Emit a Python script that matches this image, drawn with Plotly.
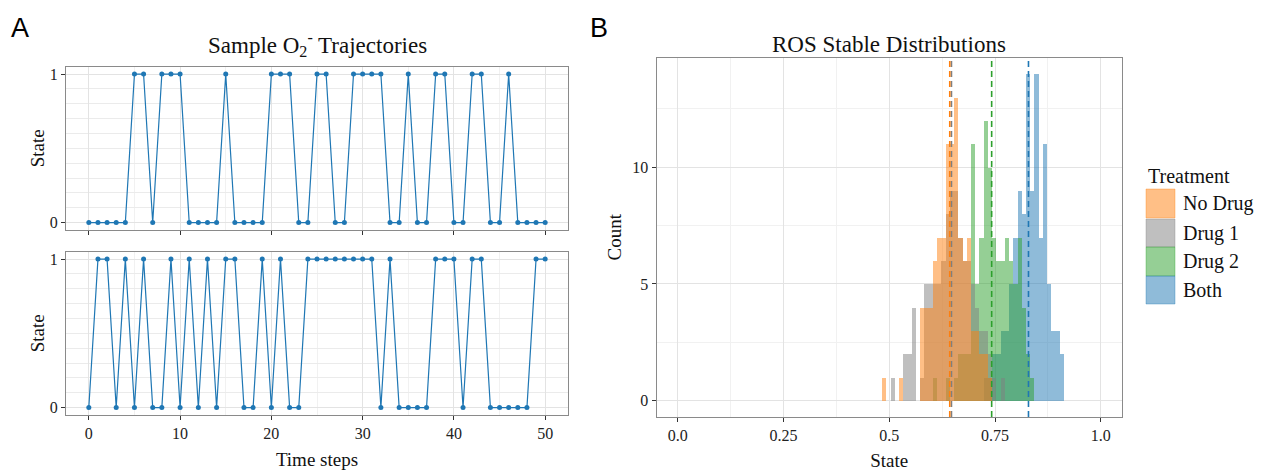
import plotly.graph_objects as go

# ---------------- data ----------------
time_steps = list(range(51))
traj_top = [0,0,0,0,0, 1,1, 0, 1,1,1, 0,0,0,0, 1, 0,0,0,0, 1,1,1, 0,0, 1,1, 0,0,
            1,1,1,1, 0,0, 1, 0,0, 1,1, 0,0, 1,1, 0,0, 1, 0,0,0,0]
traj_bottom = [0, 1,1, 0, 1, 0, 1, 0,0, 1, 0, 1, 0, 1, 0, 1,1, 0,0, 1, 0, 1, 0,0,
               1,1,1,1,1,1,1,1, 0, 1, 0,0,0,0, 1,1,1, 0, 1,1, 0,0,0,0,0, 1,1]

bin_centers = [0.487, 0.497, 0.507, 0.517, 0.527, 0.537, 0.547, 0.557, 0.567, 0.577,
               0.587, 0.597, 0.607, 0.617, 0.627, 0.637, 0.647, 0.657, 0.667, 0.677,
               0.687, 0.697, 0.707, 0.717, 0.727, 0.737, 0.747, 0.757, 0.767, 0.777,
               0.787, 0.797, 0.807, 0.817, 0.827, 0.837, 0.847, 0.857, 0.867, 0.877,
               0.887, 0.897, 0.907]
bin_width = 0.01

count_no_drug = [1,0,0,0,1,0,0,0,0,4, 4,4,6,7,7,11,11,13,7,6, 7,3,3,2,2,1,0,0,0,0,
                 0,0,0,0,0,0,0,0,0,0, 0,0,0]
count_drug1   = [0,0,1,0,0,2,2,4,0,1, 5,5,5,5,6,8,9,9,7,6, 6,5,4,3,3,2,1,0,1,0,
                 0,0,0,0,0,0,0,0,0,0, 0,0,0]
count_drug2   = [0,0,0,0,0,0,0,0,0,0, 0,0,1,0,0,1,0,1,2,2, 2,11,5,7,12,10,7,6,6,7,
                 6,5,7,4,2,1,0,0,0,0, 0,0,0]
count_both    = [0,0,0,0,0,0,0,0,0,0, 0,0,0,0,0,0,0,0,0,0, 0,0,0,0,1,1,2,2,3,3,
                 5,7,9,8,14,9,14,7,11,5, 3,3,2]

treatments = ["No Drug", "Drug 1", "Drug 2", "Both"]
treatment_counts = [count_no_drug, count_drug1, count_drug2, count_both]
treatment_means = [0.643, 0.647, 0.742, 0.829]
treatment_rgb = [(255, 127, 14), (127, 127, 127), (44, 160, 44), (31, 119, 180)]

# ---------------- layout helpers ----------------
W, H = 1261, 471
def px(x):
    return x / W
def py(y):
    return 1 - y / H

SERIF = "Liberation Serif"
SANS = "Liberation Sans"
MAJOR = "#E3E3E3"
MINOR = "#F1F1F1"
BORDER = "#8A8A8A"

fig = go.Figure()

traj_color = "#1F77B4"
for data, xa, ya in [(traj_top, "x", "y"), (traj_bottom, "x2", "y2")]:
    fig.add_trace(go.Scatter(
        x=time_steps, y=data, mode="lines+markers",
        line=dict(color=traj_color, width=1.2),
        marker=dict(size=5, color=traj_color),
        xaxis=xa, yaxis=ya, showlegend=False, hoverinfo="x+y"))

# histograms: drawn in reverse so "No Drug" sits on top
for i in reversed(range(len(treatments))):
    r, g, b = treatment_rgb[i]
    fig.add_trace(go.Bar(
        x=bin_centers, y=treatment_counts[i], width=bin_width,
        marker=dict(color=f"rgba({r},{g},{b},0.5)", line=dict(width=0)),
        name=treatments[i], xaxis="x3", yaxis="y3", showlegend=False))

# mean lines (No Drug drawn last so it sits on top)
shapes = []
for i in [3, 2, 1, 0]:
    r, g, b = treatment_rgb[i]
    shapes.append(dict(type="line", xref="x3", yref="y3 domain",
                       x0=treatment_means[i], x1=treatment_means[i], y0=0, y1=1,
                       line=dict(color=f"rgb({r},{g},{b})", width=1.6, dash="6px,4px"),
                       layer="above"))

# manual legend
legend_x0, legend_x1 = 1146, 1175
legend_rows = [(189, 218), (219, 247), (247, 276), (276, 304)]
annotations = []
for i, (y0, y1) in enumerate(legend_rows):
    r, g, b = treatment_rgb[i]
    shapes.append(dict(type="rect", xref="paper", yref="paper",
                       x0=px(legend_x0), x1=px(legend_x1), y0=py(y1), y1=py(y0),
                       fillcolor=f"rgba({r},{g},{b},0.5)",
                       line=dict(color=f"rgba({r},{g},{b},0.35)", width=1)))
    annotations.append(dict(text=treatments[i], xref="paper", yref="paper",
                            x=px(1181), y=py((y0 + y1) / 2), xanchor="left", yanchor="middle",
                            showarrow=False, font=dict(family=SERIF, size=20, color="#111")))
annotations.append(dict(text="Treatment", xref="paper", yref="paper",
                        x=px(1146), y=py(176), xanchor="left", yanchor="middle",
                        showarrow=False, font=dict(family=SERIF, size=20, color="#111")))

# titles and panel labels
annotations += [
    dict(text="Sample O<sub>2</sub><sup>-</sup> Trajectories", xref="paper", yref="paper",
         x=px(317), y=py(45), xanchor="center", yanchor="middle", showarrow=False,
         font=dict(family=SERIF, size=23, color="#111")),
    dict(text="ROS Stable Distributions", xref="paper", yref="paper",
         x=px(889), y=py(45), xanchor="center", yanchor="middle", showarrow=False,
         font=dict(family=SERIF, size=23, color="#111")),
    dict(text="A", xref="paper", yref="paper", x=px(9), y=py(28), xanchor="left",
         yanchor="middle", showarrow=False, font=dict(family=SANS, size=27, color="#000")),
    dict(text="B", xref="paper", yref="paper", x=px(588), y=py(28), xanchor="left",
         yanchor="middle", showarrow=False, font=dict(family=SANS, size=27, color="#000")),
]

def axis(**kw):
    base = dict(showline=True, linecolor=BORDER, linewidth=1, mirror=True,
                ticks="outside", ticklen=4, tickwidth=1, tickcolor="#333333",
                showgrid=True, gridcolor=MAJOR, gridwidth=1, zeroline=False,
                tickfont=dict(family=SERIF, size=16, color="#222"),
                automargin=False)
    base.update(kw)
    return base

title_font = dict(family=SERIF, size=19, color="#111")

fig.update_layout(
    width=W, height=H,
    margin=dict(l=0, r=0, t=0, b=0),
    paper_bgcolor="white", plot_bgcolor="white",
    barmode="overlay", bargap=0,
    showlegend=False,
    xaxis=axis(domain=[px(66), px(568)], range=[-2.5, 52.5], anchor="y",
               tickvals=[0, 10, 20, 30, 40, 50], showticklabels=False,
               minor=dict(tickvals=[5, 15, 25, 35, 45], showgrid=True, gridcolor=MINOR)),
    yaxis=axis(domain=[py(230), py(66.7)], range=[-0.05, 1.05], anchor="x",
               tickvals=[0, 1],
               minor=dict(tickvals=[0.1, 0.2, 0.3, 0.4, 0.5, 0.6, 0.7, 0.8, 0.9],
                          showgrid=True, gridcolor="#EBEBEB"),
               title=dict(text="State", font=title_font, standoff=0)),
    xaxis2=axis(domain=[px(66), px(568)], range=[-2.5, 52.5], anchor="y2",
                tickvals=[0, 10, 20, 30, 40, 50],
                minor=dict(tickvals=[5, 15, 25, 35, 45], showgrid=True, gridcolor=MINOR),
                title=dict(text="Time steps", font=title_font, standoff=11)),
    yaxis2=axis(domain=[py(415), py(251.7)], range=[-0.05, 1.05], anchor="x2",
                tickvals=[0, 1],
                minor=dict(tickvals=[0.1, 0.2, 0.3, 0.4, 0.5, 0.6, 0.7, 0.8, 0.9],
                           showgrid=True, gridcolor="#EBEBEB"),
                title=dict(text="State", font=title_font, standoff=0)),
    xaxis3=axis(domain=[px(656.5), px(1122)], range=[-0.05, 1.05], anchor="y3",
                tickvals=[0, 0.25, 0.5, 0.75, 1.0], ticktext=["0.0", "0.25", "0.5", "0.75", "1.0"],
                minor=dict(tickvals=[0.125, 0.375, 0.625, 0.875], showgrid=True, gridcolor=MINOR),
                title=dict(text="State", font=title_font, standoff=11)),
    yaxis3=axis(domain=[py(417), py(57.5)], range=[-0.7, 14.7], anchor="x3",
                tickvals=[0, 5, 10],
                minor=dict(tickvals=[2.5, 7.5, 12.5], showgrid=True, gridcolor=MINOR),
                title=dict(text="Count", font=title_font, standoff=5)),
    shapes=shapes,
    annotations=annotations,
)

fig.write_html("out.html", config={"displayModeBar": False},
               post_script="document.body.style.margin='0px';document.body.style.overflow='hidden';")
